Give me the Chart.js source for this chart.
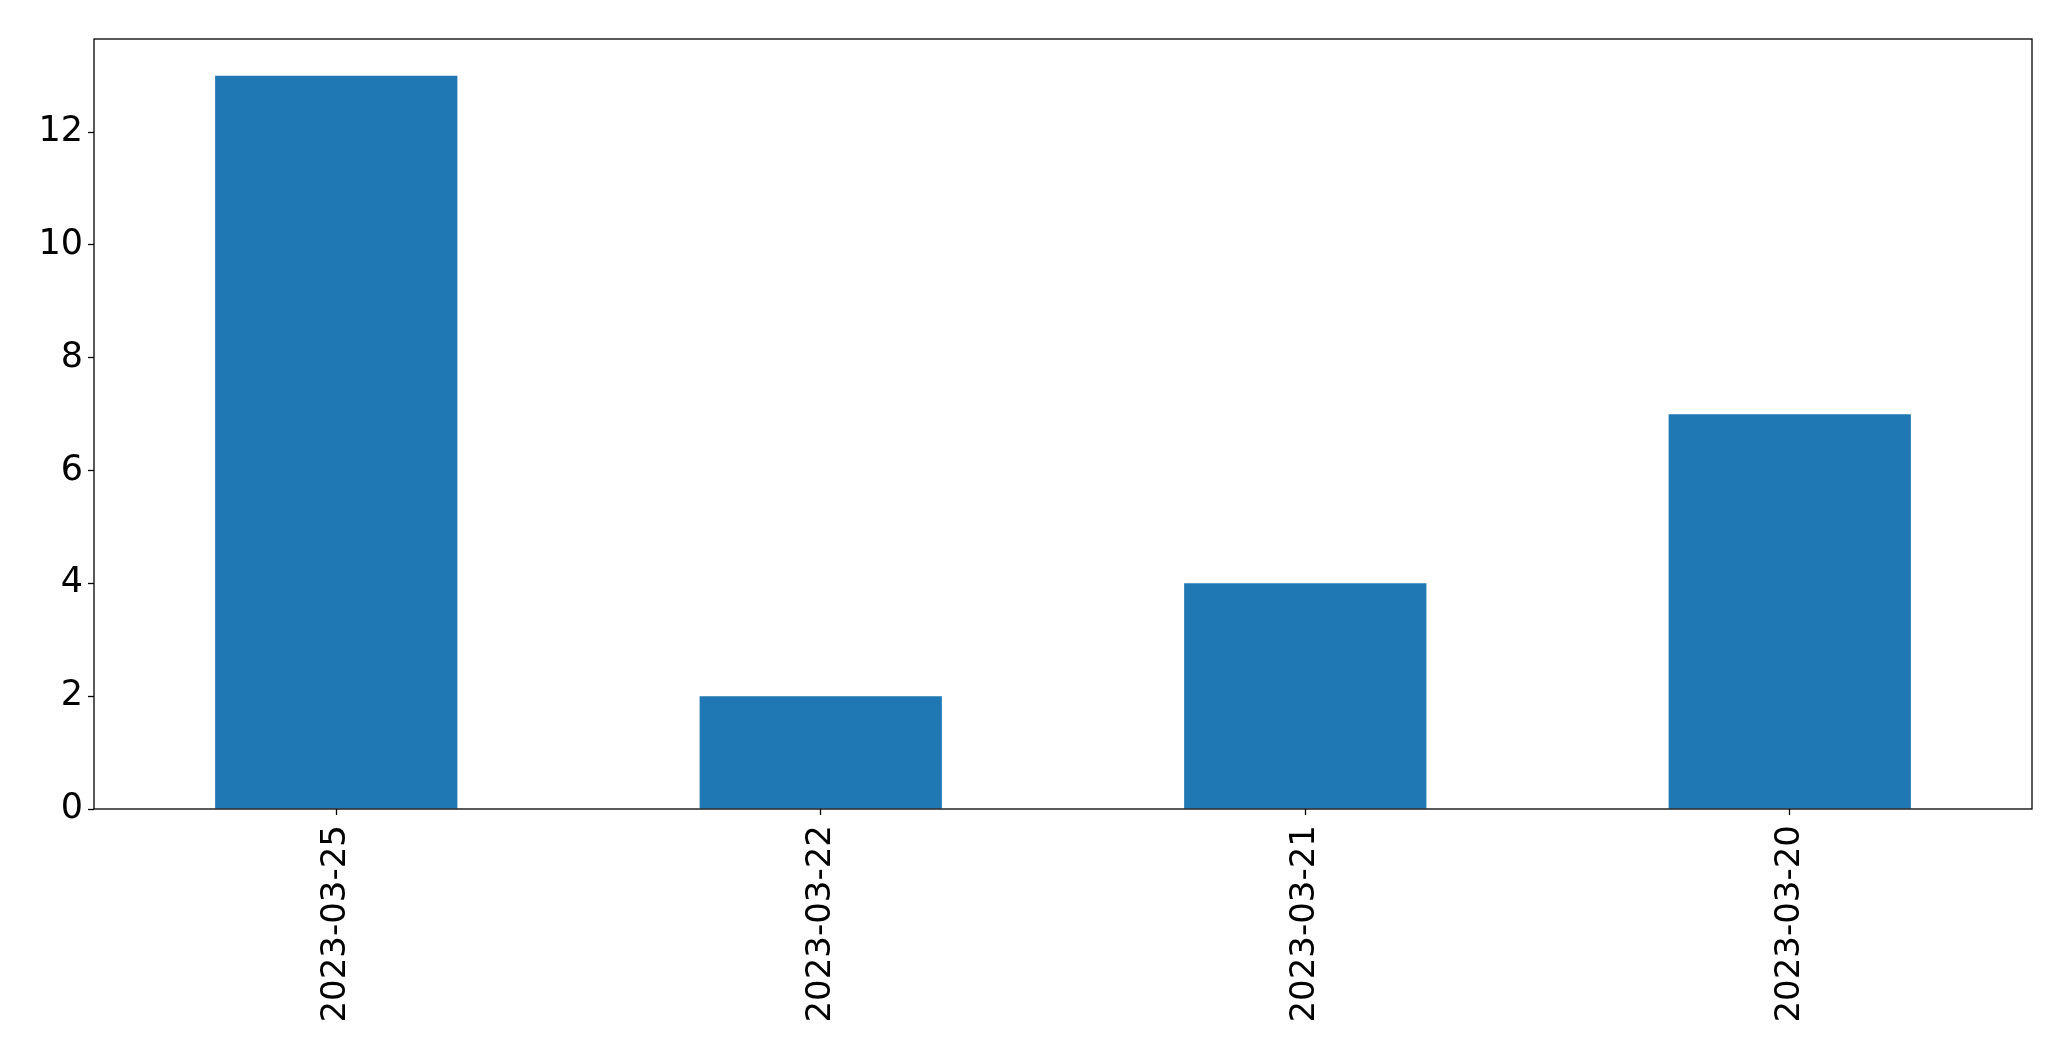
<html lang="en">
<head>
    <meta charset="UTF-8">
    <title>Counts by date</title>
    <script src="https://cdn.jsdelivr.net/npm/chart.js"></script>
    <style>
        body {
            margin: 0;
            padding: 0;
            background-color: white;
        }

        .chart-box {
            width: 2071px;
            height: 1061px;
        }
    </style>
</head>
<body>
    <div class="chart-box">
        <canvas id="barChart"></canvas>
    </div>
    <script>
        // Data
        const dates = ['2023-03-25', '2023-03-22', '2023-03-21', '2023-03-20'];
        const counts = [13, 2, 4, 7];
        const yTicks = [0, 2, 4, 6, 8, 10, 12];

        // Draws the box round the plot area
        const frame = {
            id: 'frame',
            afterDraw(chart) {
                const a = chart.chartArea;
                const ctx = chart.ctx;
                ctx.save();
                ctx.strokeStyle = '#000';
                ctx.lineWidth = 1.3;
                ctx.strokeRect(a.left, a.top, a.right - a.left, a.bottom - a.top);
                ctx.restore();
            }
        };

        const ctx = document.getElementById('barChart').getContext('2d');
        new Chart(ctx, {
            type: 'bar',
            data: {
                labels: dates,
                datasets: [{
                    data: counts,
                    backgroundColor: '#1f77b4',
                    categoryPercentage: 1.0,
                    barPercentage: 0.5
                }]
            },
            options: {
                responsive: true,
                maintainAspectRatio: false,
                animation: false,
                layout: {
                    padding: { top: 39, right: 39, bottom: 0, left: 0 }
                },
                plugins: {
                    legend: { display: false },
                    tooltip: { enabled: false }
                },
                scales: {
                    x: {
                        grid: {
                            offset: false,
                            drawOnChartArea: false,
                            tickLength: 6,
                            tickColor: '#000',
                            tickWidth: 1.3
                        },
                        border: { display: false },
                        ticks: {
                            color: '#000',
                            font: { family: 'DejaVu Sans', size: 34 },
                            minRotation: 90,
                            maxRotation: 90,
                            padding: 10
                        },
                        afterFit(scale) {
                            scale.height = 252;
                        }
                    },
                    y: {
                        min: 0,
                        max: 13.65,
                        grid: {
                            drawOnChartArea: false,
                            tickLength: 6,
                            tickColor: '#000',
                            tickWidth: 1.3
                        },
                        border: { display: false },
                        ticks: {
                            color: '#000',
                            font: { family: 'DejaVu Sans', size: 35 },
                            stepSize: 2,
                            padding: 5
                        },
                        afterBuildTicks(scale) {
                            scale.ticks = yTicks.map(v => ({ value: v }));
                        },
                        afterFit(scale) {
                            scale.width = 94;
                        }
                    }
                }
            },
            plugins: [frame]
        });
    </script>
</body>
</html>
